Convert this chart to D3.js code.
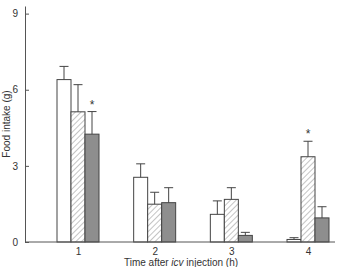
<!DOCTYPE html>
<html>
<head>
<meta charset="utf-8">
<script src="https://cdn.jsdelivr.net/npm/d3@7"></script>
<style>
  body { margin: 0; background: #fff; }
  svg text { font-family: "Liberation Sans", Arial, sans-serif; fill: #333; }
</style>
</head>
<body>
<div id="chart"></div>
<script>
// data
const hours = [1, 2, 3, 4];
const groups = ["open", "hatched", "filled"];
const meanOpen    = [6.4, 2.55, 1.09, 0.1];
const meanHatched = [5.13, 1.49, 1.68, 3.36];
const meanFilled  = [4.25, 1.55, 0.26, 0.95];
const errOpen     = [0.52, 0.53, 0.53, 0.07];
const errHatched  = [1.07, 0.47, 0.46, 0.61];
const errFilled   = [0.89, 0.59, 0.12, 0.44];
const yTicks = [0, 3, 6, 9];
// significant bars (hour, group)
const stars = [{hour: 1, group: "filled"}, {hour: 4, group: "hatched"}];

const means = {open: meanOpen, hatched: meanHatched, filled: meanFilled};
const errs = {open: errOpen, hatched: errHatched, filled: errFilled};

const rows = [];
hours.forEach((h, i) => {
  groups.forEach(g => rows.push({hour: h, group: g, value: means[g][i], err: errs[g][i]}));
});

const width = 337, height = 267;
const margin = {top: 6, right: 0, bottom: 25, left: 25};

const svg = d3.select("#chart").append("svg")
  .attr("width", width)
  .attr("height", height);

const defs = svg.append("defs");
const pat = defs.append("pattern")
  .attr("id", "hatch")
  .attr("patternUnits", "userSpaceOnUse")
  .attr("width", 4)
  .attr("height", 4)
  .attr("patternTransform", "rotate(45)");
pat.append("rect").attr("width", 4).attr("height", 4).attr("fill", "#fff");
pat.append("line")
  .attr("x1", 0).attr("y1", 0).attr("x2", 0).attr("y2", 4)
  .attr("stroke", "#8a8a8a").attr("stroke-width", 1);

const x = d3.scalePoint()
  .domain(hours)
  .range([78, 308]);

const xInner = d3.scaleBand()
  .domain(groups)
  .range([-21, 21]);

const y = d3.scaleLinear()
  .domain([0, 9.3])
  .range([height - margin.bottom, margin.top]);

const fills = {open: "#fff", hatched: "url(#hatch)", filled: "#8e8e8e"};

// bars
svg.append("g")
  .selectAll("rect")
  .data(rows)
  .join("rect")
    .attr("x", d => x(d.hour) + xInner(d.group))
    .attr("y", d => y(d.value))
    .attr("width", xInner.bandwidth())
    .attr("height", d => y(0) - y(d.value))
    .attr("fill", d => fills[d.group])
    .attr("stroke", "#444")
    .attr("stroke-width", 1);

// error bars
const eb = svg.append("g")
  .attr("stroke", "#444")
  .attr("stroke-width", 1)
  .selectAll("g")
  .data(rows)
  .join("g")
    .attr("transform", d => `translate(${x(d.hour) + xInner(d.group) + xInner.bandwidth() / 2},0)`);

eb.append("line")
  .attr("y1", d => y(d.value))
  .attr("y2", d => y(d.value + d.err));
eb.append("line")
  .attr("x1", -4.5).attr("x2", 4.5)
  .attr("y1", d => y(d.value + d.err))
  .attr("y2", d => y(d.value + d.err));

// asterisks
svg.append("g")
  .selectAll("text")
  .data(stars)
  .join("text")
    .attr("x", d => x(d.hour) + xInner(d.group) + xInner.bandwidth() / 2)
    .attr("y", d => {
      const r = rows.find(o => o.hour === d.hour && o.group === d.group);
      return y(r.value + r.err) - 3;
    })
    .attr("text-anchor", "middle")
    .attr("font-size", 12)
    .text("*");

// y axis
const yAxis = svg.append("g")
  .attr("transform", `translate(${margin.left},0)`)
  .call(d3.axisLeft(y).tickValues(yTicks).tickSize(-4).tickSizeOuter(0).tickPadding(7));
yAxis.selectAll("text").attr("font-size", 10);
yAxis.selectAll("line, path").attr("stroke", "#555");

// x axis
svg.append("line")
  .attr("x1", margin.left).attr("x2", width - 2)
  .attr("y1", y(0)).attr("y2", y(0))
  .attr("stroke", "#555");

const xAxis = svg.append("g")
  .attr("transform", `translate(0,${y(0)})`)
  .call(d3.axisBottom(x).tickSize(0).tickPadding(6));
xAxis.select(".domain").remove();
xAxis.selectAll("text").attr("font-size", 10);

// axis titles
svg.append("text")
  .attr("transform", `translate(10,${(y(0) + margin.top) / 2}) rotate(-90)`)
  .attr("text-anchor", "middle")
  .attr("font-size", 10)
  .text("Food intake (g)");

const xt = svg.append("text")
  .attr("x", (margin.left + width) / 2)
  .attr("y", 266)
  .attr("text-anchor", "middle")
  .attr("font-size", 10);
xt.append("tspan").text("Time after ");
xt.append("tspan").attr("font-style", "italic").text("icv");
xt.append("tspan").text(" injection (h)");
</script>
</body>
</html>
